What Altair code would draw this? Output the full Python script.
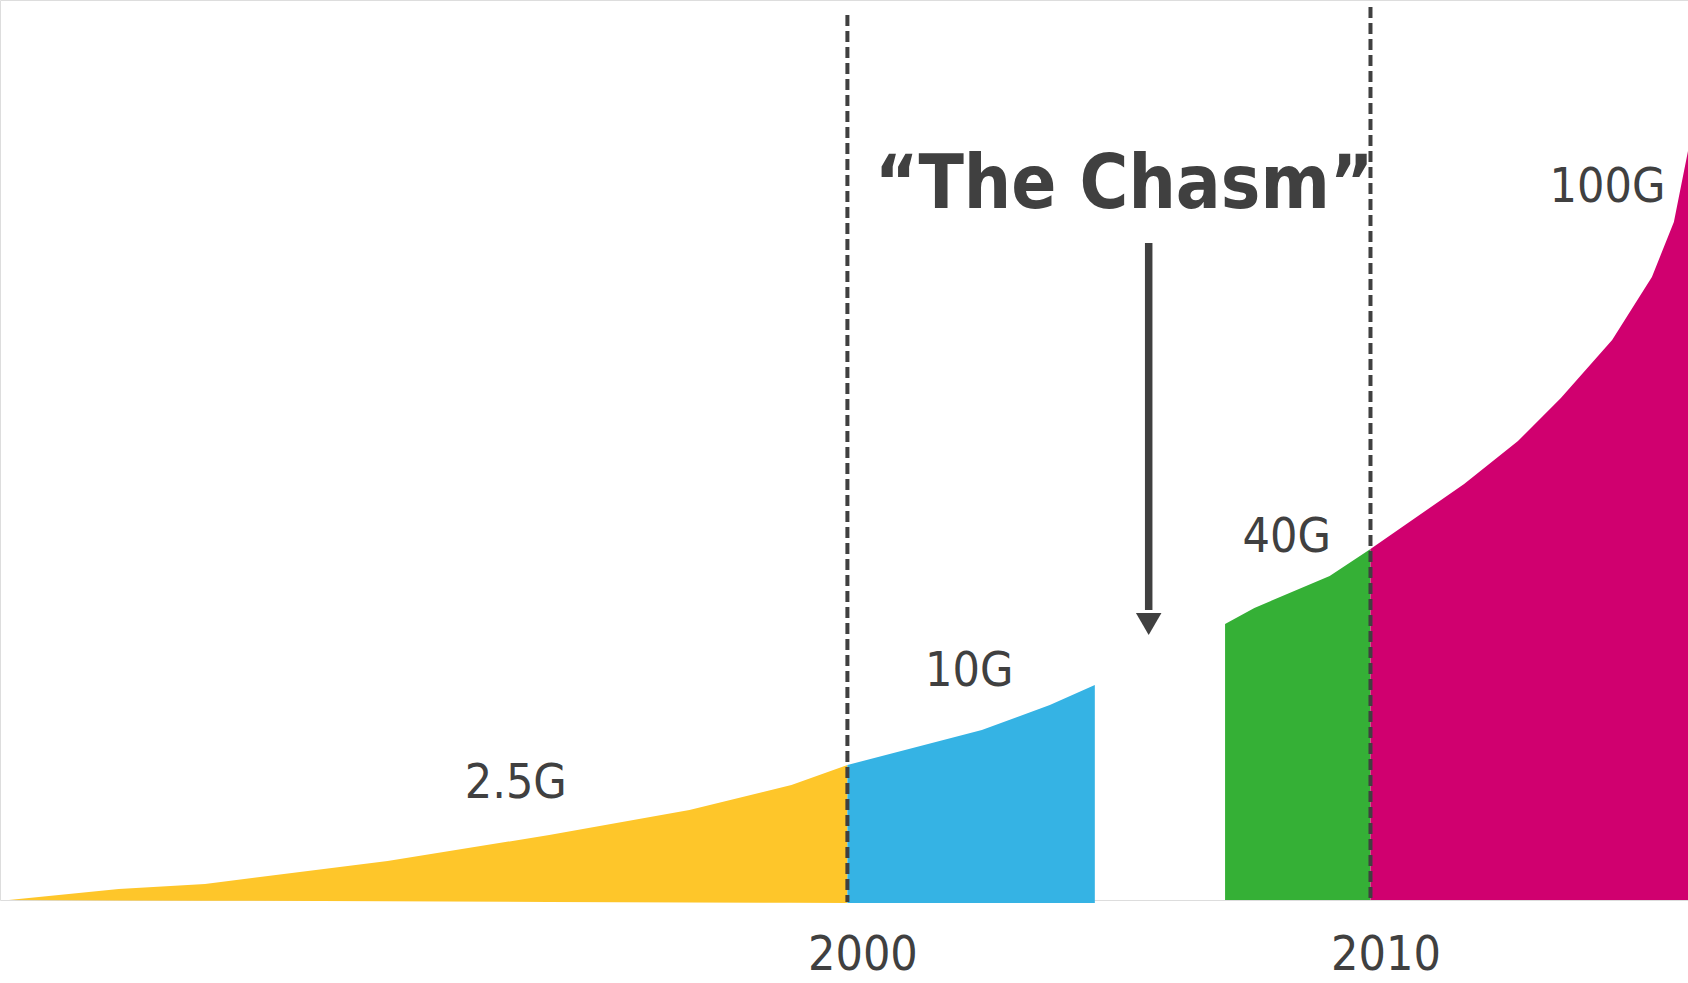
import altair as alt
import pandas as pd

# ---- data (years on x, relative bandwidth height on y) ----
yellow_year = [1983.97, 1986.07, 1987.72, 1991.21, 1994.30, 1996.98, 1998.93, 2000.0]
yellow_top = [0, 11, 16, 39, 65, 90, 115, 135]
yellow_bot = [0, -0.4, -0.7, -1.3, -1.9, -2.4, -2.8, -3]

blue_year = [2000.0, 2002.57, 2003.87, 2004.73]
blue_top = [135, 170, 195, 215]
blue_bot = [-3, -3, -3, -3]

green_year = [2007.22, 2007.78, 2009.22, 2010.0]
green_top = [276, 292, 324, 351]
green_bot = [0, 0, 0, 0]

magenta_year = [2010.0, 2011.79, 2012.82, 2013.64, 2014.62, 2015.38, 2015.80, 2016.07]
magenta_top = [351, 416, 459, 502, 560, 623, 678, 749]
magenta_bot = [0, 0, 0, 0, 0, 0, 0, 0]

series_names = ["2.5G", "10G", "40G", "100G"]
series_colors = ["#FEC62A", "#35B3E4", "#35B036", "#D0006F"]

label_text = ["2.5G", "10G", "40G", "100G"]
label_year = [1993.66, 2002.33, 2008.40, 2014.53]
label_y = [102, 214, 348, 698]

marker_years = [2000, 2010]
marker_top = [885, 893]
marker_bot = [-2, 0]

title_text = ["\u201cThe Chasm\u201d"]
title_year = [2005.29]
title_y = [692]

arrow_year = [2005.76]
arrow_start = [657]
arrow_end = [290]
arrow_tip = [276]

rows = []
for name, yrs, tops, bots in zip(
    series_names,
    [yellow_year, blue_year, green_year, magenta_year],
    [yellow_top, blue_top, green_top, magenta_top],
    [yellow_bot, blue_bot, green_bot, magenta_bot],
):
    for a, b, c in zip(yrs, tops, bots):
        rows.append({"series": name, "year": a, "top": b, "bot": c})
areas_df = pd.DataFrame(rows)

labels_df = pd.DataFrame({"text": label_text, "year": label_year, "y": label_y})
markers_df = pd.DataFrame({"year": marker_years, "top": marker_top, "bot": marker_bot})
title_df = pd.DataFrame({"text": title_text, "year": title_year, "y": title_y})
arrow_df = pd.DataFrame({"year": arrow_year, "start": arrow_start, "end": arrow_end, "tip": arrow_tip})

XDOM = [1983.8, 2016.07]
YDOM = [0, 900]
TXT = "#404040"
LABEL_FONT = "DejaVu Sans Condensed, Liberation Sans Narrow, DejaVu Sans"

xscale = alt.Scale(domain=XDOM, nice=False, zero=False)
yscale = alt.Scale(domain=YDOM, nice=False)

xaxis = alt.Axis(
    values=marker_years, format="d", title=None, domain=False, ticks=False,
    tickSize=0, grid=False, labelFont=LABEL_FONT, labelFontSize=48,
    labelColor=TXT, labelBaseline="alphabetic", labelPadding=69, labelOffset=15,
)

areas = alt.Chart(areas_df).mark_area(interpolate="linear").encode(
    x=alt.X("year:Q", scale=xscale, axis=xaxis),
    y=alt.Y("top:Q", scale=yscale, axis=None),
    y2="bot:Q",
    color=alt.Color("series:N", scale=alt.Scale(domain=series_names, range=series_colors), legend=None),
)

markers = alt.Chart(markers_df).mark_rule(
    color=TXT, strokeWidth=4, strokeDash=[11, 5]
).encode(
    x=alt.X("year:Q", scale=xscale),
    y=alt.Y("top:Q", scale=yscale),
    y2="bot:Q",
)

labels = alt.Chart(labels_df).mark_text(
    font=LABEL_FONT, fontSize=48, color=TXT, baseline="alphabetic", align="center"
).encode(
    x=alt.X("year:Q", scale=xscale),
    y=alt.Y("y:Q", scale=yscale),
    text="text:N",
)

title = alt.Chart(title_df).mark_text(
    font="DejaVu Sans Condensed, DejaVu Sans", fontWeight="bold", fontSize=74,
    color=TXT, baseline="alphabetic", align="center"
).encode(
    x=alt.X("year:Q", scale=xscale),
    y=alt.Y("y:Q", scale=yscale),
    text="text:N",
)

arrow_line = alt.Chart(arrow_df).mark_rule(color=TXT, strokeWidth=7.5).encode(
    x=alt.X("year:Q", scale=xscale),
    y=alt.Y("start:Q", scale=yscale),
    y2="end:Q",
)

arrow_head = alt.Chart(arrow_df).mark_point(
    shape="triangle-down", filled=True, color=TXT, opacity=1, size=650
).encode(
    x=alt.X("year:Q", scale=xscale),
    y=alt.Y("tip:Q", scale=yscale),
)

chart = alt.layer(areas, markers, labels, title, arrow_line, arrow_head).properties(
    width=1688, height=900,
    padding={"left": 0, "top": 0, "right": 0, "bottom": 83},
    autosize=alt.AutoSizeParams(type="none"),
).configure_view(stroke=None).configure(background="white")

chart.save("out.html", embed_options={"renderer": "svg", "actions": False})
